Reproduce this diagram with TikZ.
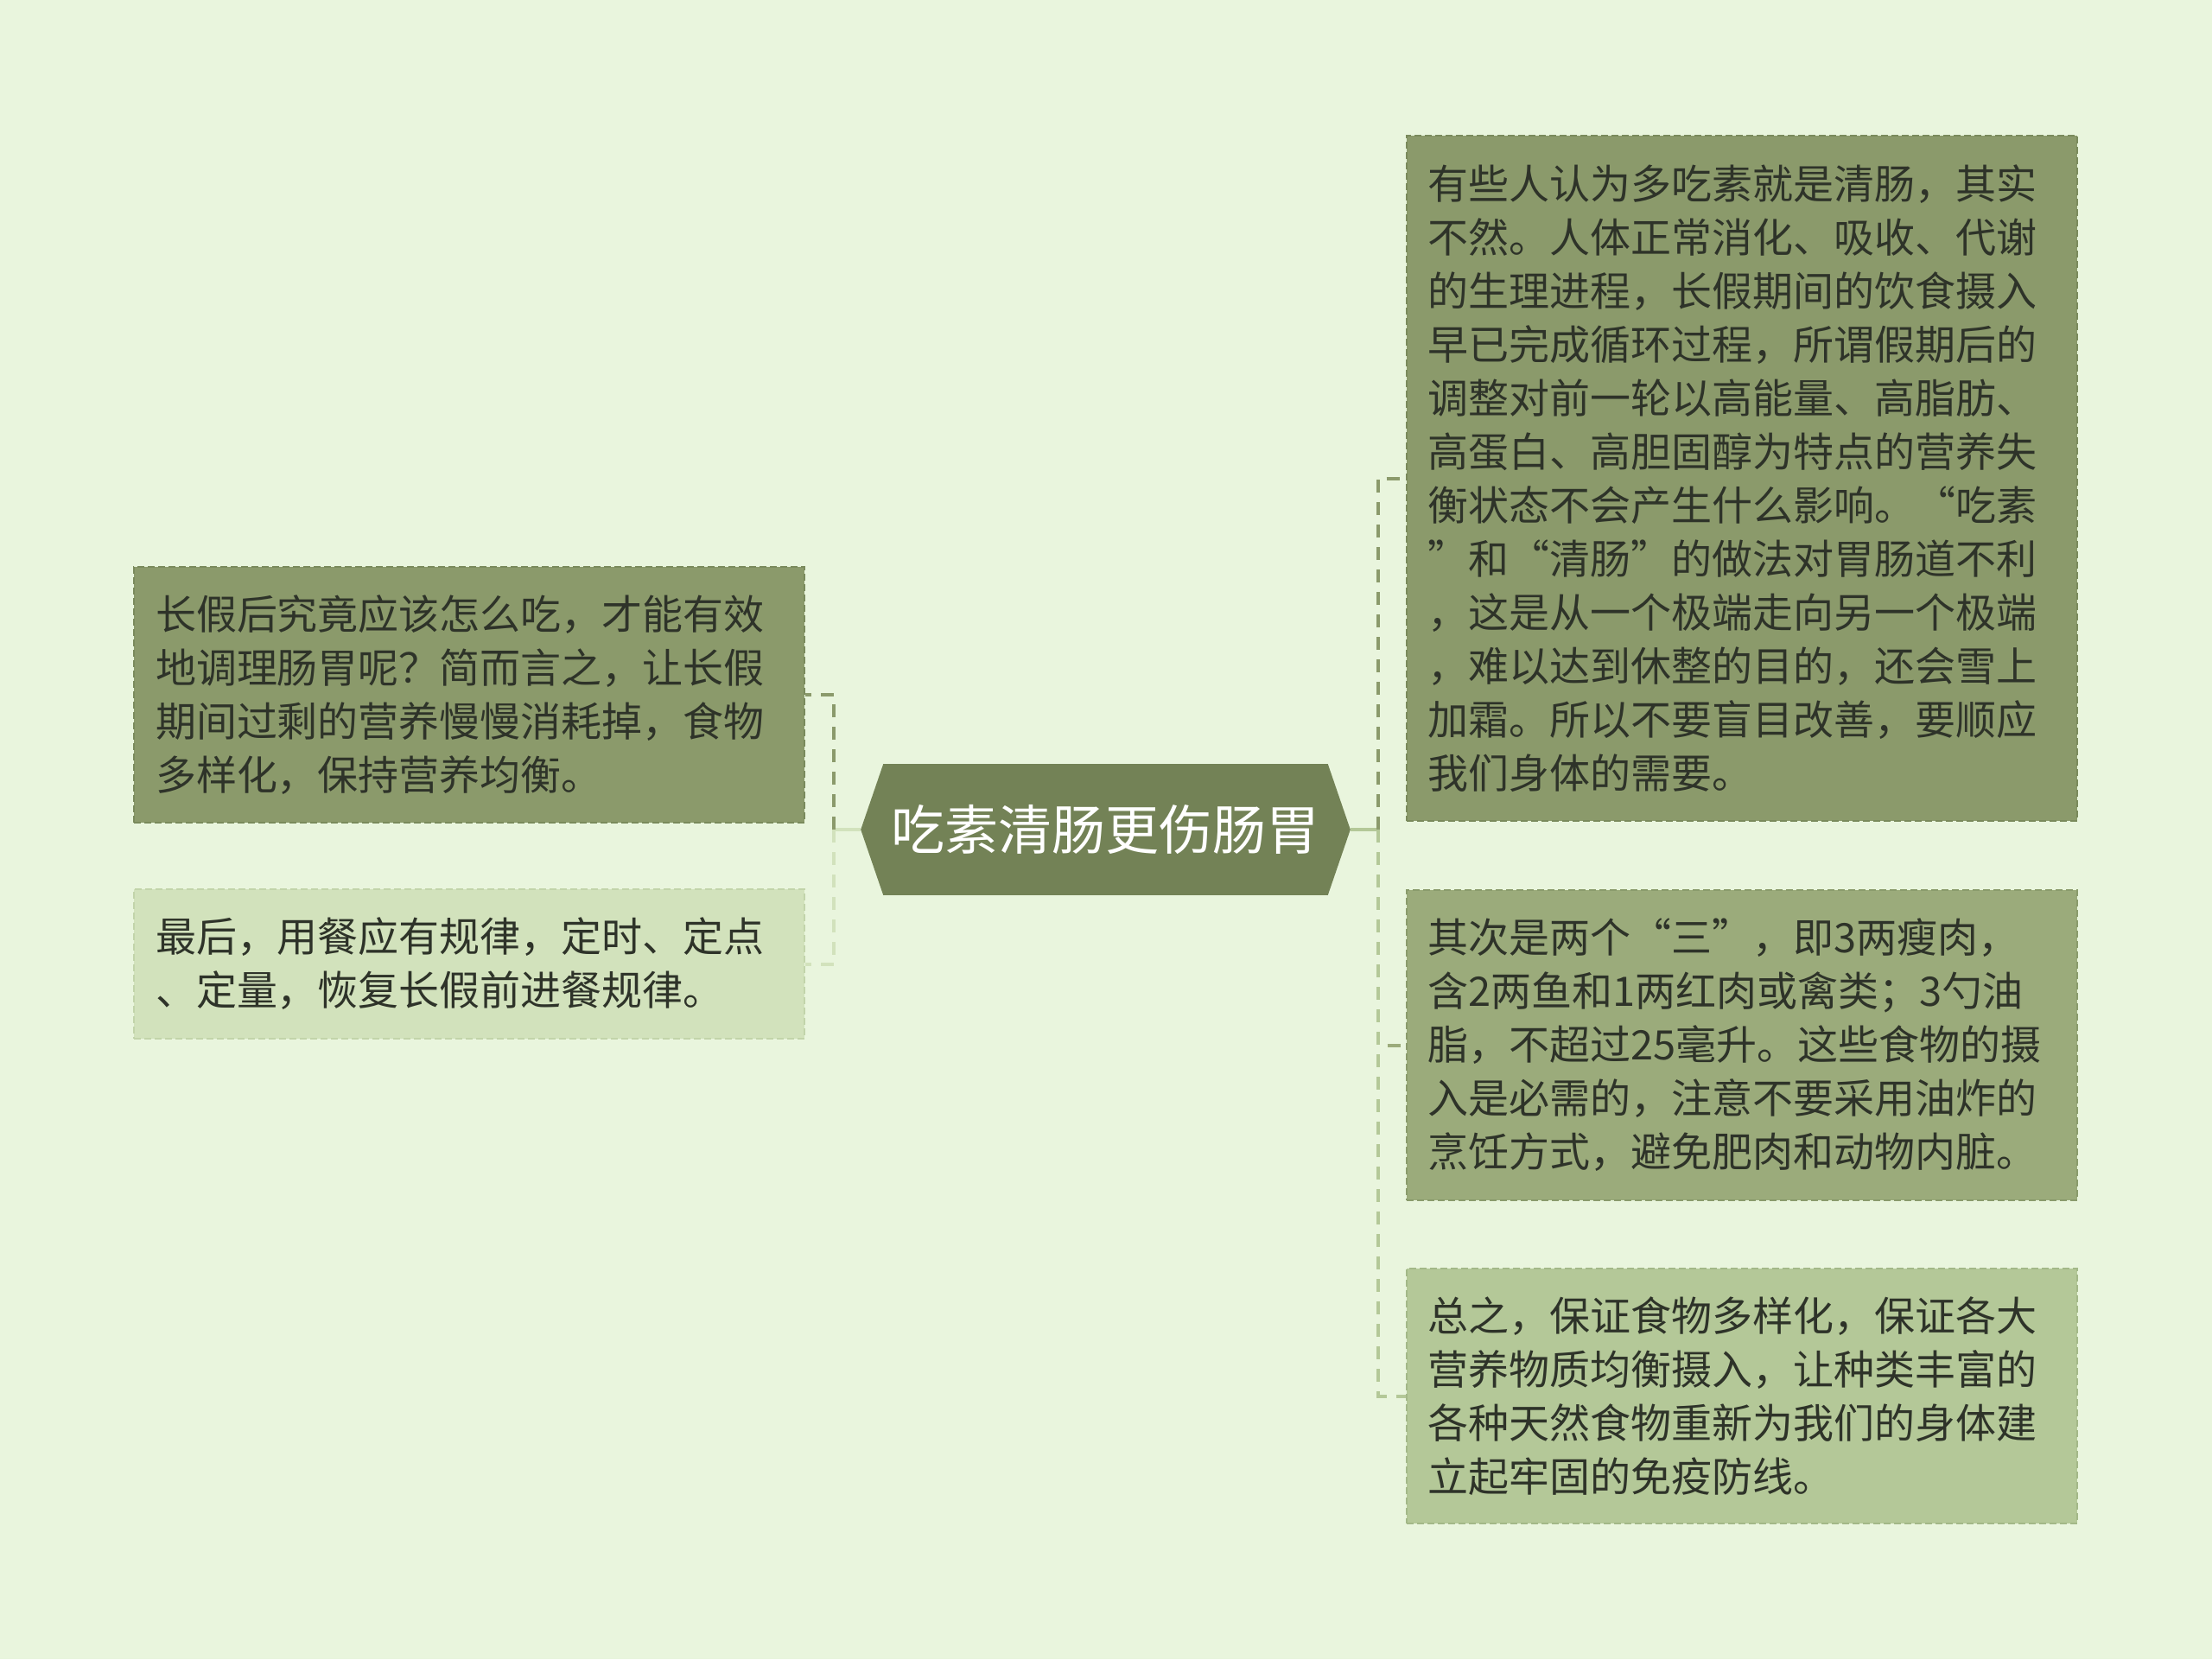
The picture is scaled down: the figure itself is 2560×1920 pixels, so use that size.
\documentclass[tikz,border=0pt]{standalone}
\usepackage{fontspec}
\setmainfont{Noto Sans CJK SC}
\usetikzlibrary{backgrounds}
\definecolor{bgc}{HTML}{E9F5DD}
\definecolor{cen}{HTML}{738256}
\definecolor{dk}{HTML}{8B9A6B}
\definecolor{dkb}{HTML}{7A8A5C}
\definecolor{md}{HTML}{9BAB7B}
\definecolor{mdb}{HTML}{8A9B6C}
\definecolor{lb}{HTML}{B4C898}
\definecolor{lbb}{HTML}{A3B888}
\definecolor{lt}{HTML}{D2E2BC}
\definecolor{ltb}{HTML}{C2D4AA}
\definecolor{textc}{HTML}{2E3329}
\definecolor{trunkc}{HTML}{B4C898}
\begin{document}
\begin{tikzpicture}[x=0.25pt,y=-0.25pt,
  txt/.style={rectangle, text width=181.5pt, align=left, inner xsep=6.25pt, inner ysep=0pt,
    minimum width=194pt, font=\fontsize{11.75pt}{15.5pt}\selectfont, text=textc,
    dash pattern=on 2pt off 1pt, line width=0.5pt},
  trunk/.style={line width=1pt},
  branch/.style={line width=1pt, dash pattern=on 3.75pt off 2.75pt}]
\useasboundingbox (0,0) rectangle (2560,1920);

\node[minimum width=128.25pt, minimum height=37.5pt, inner sep=0pt,
  font=\fontsize{15.5pt}{18pt}\selectfont, text=white] (C) at (1279.5,960) {吃素清肠更伤肠胃};
\coordinate (TR) at ([xshift=6.5pt]C.east);
\coordinate (TL) at ([xshift=-6.5pt]C.west);
\begin{scope}[on background layer]
\fill[bgc] (0,0) rectangle (2560,1920);
\fill[cen] (C.north west) -- (C.north east) -- (TR) -- (C.south east) -- (C.south west) -- (TL) -- cycle;
\end{scope}

\node[txt, fill=dk, draw=dkb, minimum height=74pt] (L1) at (543,804) {长假后究竟应该怎么吃，才能有效\\地调理肠胃呢？简而言之，让长假\\期间过剩的营养慢慢消耗掉，食物\\多样化，保持营养均衡。};
\node[txt, fill=lt, draw=ltb, minimum height=43.25pt] (L2) at (543,1115.5) {最后，用餐应有规律，定时、定点\\、定量，恢复长假前进餐规律。};

\node[txt, fill=dk, draw=dkb, minimum height=198.25pt] (R1) at (2015.5,553.5) {有些人认为多吃素就是清肠，其实\\不然。人体正常消化、吸收、代谢\\的生理进程，长假期间的饮食摄入\\早已完成循环过程，所谓假期后的\\调整对前一轮以高能量、高脂肪、\\高蛋白、高胆固醇为特点的营养失\\衡状态不会产生什么影响。“吃素\\”和“清肠”的做法对胃肠道不利\\，这是从一个极端走向另一个极端\\，难以达到休整的目的，还会雪上\\加霜。所以不要盲目改善，要顺应\\我们身体的需要。};
\node[txt, fill=md, draw=mdb, minimum height=89.75pt] (R2) at (2015.5,1209.5) {其次是两个“三”，即3两瘦肉，\\含2两鱼和1两红肉或禽类；3勺油\\脂，不超过25毫升。这些食物的摄\\入是必需的，注意不要采用油炸的\\烹饪方式，避免肥肉和动物内脏。};
\node[txt, fill=lb, draw=lbb, minimum height=73.75pt] (R3) at (2015.5,1615.5) {总之，保证食物多样化，保证各大\\营养物质均衡摄入，让种类丰富的\\各种天然食物重新为我们的身体建\\立起牢固的免疫防线。};

\coordinate (JR) at (1595,960);
\coordinate (JL) at (965,960);
\draw[trunk, trunkc] (TR) -- (JR);
\draw[trunk, lt] (TL) -- (JL);
\draw[branch, dk] (JR) |- (R1.west);
\draw[branch, md] (JR) |- (R2.west);
\draw[branch, lb] (JR) |- (R3.west);
\draw[branch, dk] (JL) |- (L1.east);
\draw[branch, lt] (JL) |- (L2.east);
\end{tikzpicture}
\end{document}
